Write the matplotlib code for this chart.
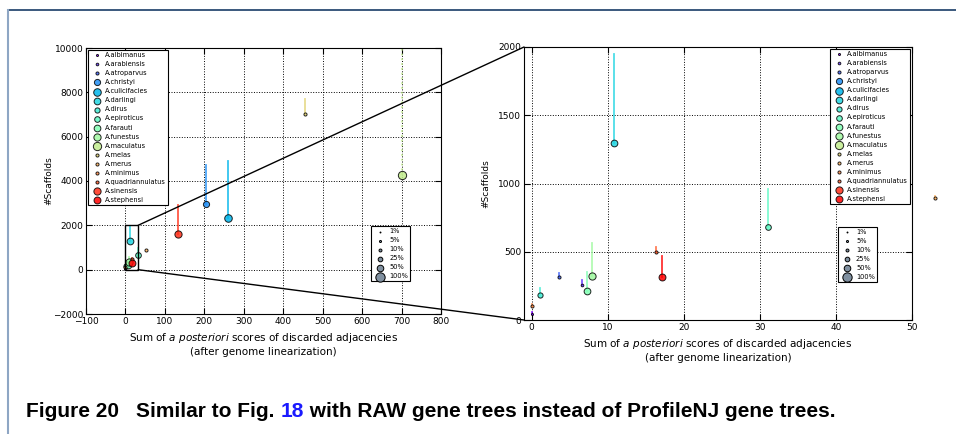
import numpy as np
import matplotlib
matplotlib.use('Agg')
import matplotlib.pyplot as plt
from matplotlib.patches import Rectangle, ConnectionPatch
from matplotlib.lines import Line2D

# species, score of discarded adjacencies, scaffolds after / before linearization
species = ['A.albimanus', 'A.arabiensis', 'A.atroparvus', 'A.christyi', 'A.culicifacies',
           'A.darlingi', 'A.dirus', 'A.epiroticus', 'A.farauti', 'A.funestus',
           'A.maculatus', 'A.melas', 'A.merus', 'A.minimus', 'A.quadriannulatus',
           'A.sinensis', 'A.stephensi']
score = [0.0, 6.6, 3.6, 205, 260, 10.8, 1.1, 31.1, 7.3, 8.0, 701, 456, 53, 0.1, 16.3, 133, 17.2]
scaffolds = [44, 257, 313, 2976, 2315, 1295, 183, 682, 212, 325, 4282, 7042, 895, 100, 496, 1625, 313]
scaffolds_before = [60, 293, 342, 4732, 4912, 1950, 232, 961, 354, 567, 11000, 7690, 905, 115, 537, 2930, 470]
pct = [5, 8, 11, 44, 66, 52, 31, 37, 52, 60, 79, 11, 11, 11, 11, 60, 55]

size_pct = [1, 5, 10, 25, 50, 100]
size_labels = ['1%', '5%', '10%', '25%', '50%', '100%']

SK = 0.45
colors = plt.cm.rainbow(np.linspace(0, 1, len(species)))

fig = plt.figure(figsize=(9.56, 4.34), dpi=100)
ax1 = fig.add_axes([86/956, 1-314/434, 355/956, 266/434])
ax2 = fig.add_axes([524/956, 1-320/434, 388/956, 273/434])


def draw(ax, zoomed):
    for i, name in enumerate(species):
        ls = ':' if name == 'A.maculatus' else '-'
        clip = True
        if zoomed and score[i] <= 55 and scaffolds[i] <= 2000:
            clip = False
        ax.plot([score[i], score[i]], [scaffolds[i], scaffolds_before[i]], color=colors[i],
                lw=1.3, ls=ls, alpha=0.8, zorder=2, clip_on=clip)
        ax.scatter(score[i], scaffolds[i], s=pct[i]*SK, color=colors[i], alpha=0.85,
                   edgecolors='black', linewidths=0.7, label=name, zorder=3, clip_on=clip)
    ax.grid(True, ls=':', color='black', lw=0.7)
    ax.tick_params(direction='in', top=True, right=True, labelsize=6.5, length=4, pad=2)
    ax.set_ylabel('#Scaffolds', fontsize=6.5)
    ax.set_xlabel('Sum of $\\it{a\\ posteriori}$ scores of discarded adjacencies\n(after genome linearization)',
                  fontsize=7.5, labelpad=4)
    leg = ax.legend(loc='upper left' if not zoomed else 'upper right', fontsize=4.8, scatterpoints=1,
                    labelspacing=0.46, handletextpad=0.2, borderpad=0.3, fancybox=False,
                    framealpha=1, edgecolor='black', borderaxespad=0.3)
    leg.get_frame().set_linewidth(0.8)
    ax.add_artist(leg)
    handles = [ax.scatter([], [], s=p*SK, color='#8090a0', edgecolors='black', linewidths=0.7)
               for p in size_pct]
    anchor = (0.922, 0.11) if not zoomed else (0.918, 0.128)
    leg2 = ax.legend(handles, size_labels, loc='lower right', bbox_to_anchor=anchor,
                     fontsize=4.8, scatterpoints=1, labelspacing=0.45, handletextpad=0.4,
                     borderpad=0.3, fancybox=False, framealpha=1, edgecolor='black')
    leg2.get_frame().set_linewidth(0.8)


draw(ax1, False)
ax1.set_xlim(-100, 800)
ax1.set_ylim(-2000, 10000)
ax1.set_xticks(range(-100, 801, 100))
ax1.set_yticks(range(-2000, 10001, 2000))
ax1.yaxis.set_label_coords(-0.092, 0.5)

draw(ax2, True)
ax2.set_xlim(-1, 50)
ax2.set_ylim(0, 2000)
ax2.set_xticks(range(0, 51, 10))
ax2.set_yticks(range(0, 2001, 500))
ax2.yaxis.set_label_coords(-0.088, 0.5)

# zoom box and connecting lines
ax1.add_patch(Rectangle((0, 0), 32, 2000, fill=False, ec='black', lw=1, zorder=4))
for ya, yb in [(2000, 1), (0, 0)]:
    con = ConnectionPatch(xyA=(32, ya), coordsA=ax1.transData, xyB=(0, yb), coordsB=ax2.transAxes,
                          color='black', lw=1)
    fig.add_artist(con)

# page frame
fig.add_artist(Line2D([8/956, 1], [1-10/434, 1-10/434], transform=fig.transFigure, color='#2b4b73', lw=1.3))
fig.add_artist(Line2D([8/956, 8/956], [0, 1-10/434], transform=fig.transFigure, color='#8ea6c4', lw=1.5))

# caption
cap_y = 1 - 417/434
cap = dict(fontsize=15, fontweight='bold', family=['Liberation Sans', 'DejaVu Sans'], va='baseline')
fig.text(26/956, cap_y, 'Figure 20', **cap)
renderer = fig.canvas.get_renderer()
x = 136/956
for piece, col in [('Similar to Fig. ', 'black'), ('18', '#1a1aff'),
                   (' with RAW gene trees instead of ProfileNJ gene trees.', 'black')]:
    t = fig.text(x, cap_y, piece, color=col, **cap)
    bb = t.get_window_extent(renderer)
    x += bb.width / fig.bbox.width

fig.savefig('out.png', dpi=100)
